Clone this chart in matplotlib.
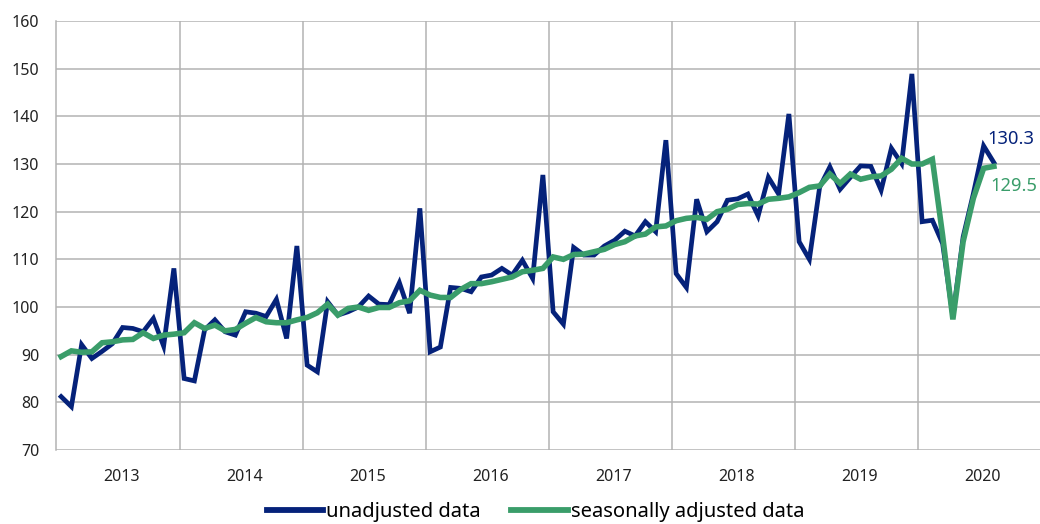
import matplotlib
matplotlib.use("Agg")
import matplotlib.pyplot as plt
import numpy as np

# monthly index values, Jan 2013 - Aug 2020
unadjusted = [81.2, 79.1, 92.1, 89.2, 90.7, 92.3, 95.7, 95.5, 94.8, 97.6, 91.8, 108.1,
              85.0, 84.5, 95.2, 97.3, 94.8, 94.1, 99.0, 98.7, 98.0, 101.6, 93.4, 112.8,
              87.8, 86.4, 101.1, 98.3, 99.0, 100.0, 102.3, 100.6, 100.5, 105.1, 98.7, 120.7,
              90.6, 91.6, 104.1, 103.9, 103.2, 106.3, 106.7, 108.1, 106.7, 109.8, 106.0, 127.7,
              99.0, 96.4, 112.5, 110.9, 110.9, 112.8, 114.0, 115.9, 114.9, 117.9, 115.8, 135.0,
              107.0, 104.1, 122.6, 115.8, 117.9, 122.4, 122.7, 123.7, 119.1, 127.2, 123.7, 140.5,
              113.7, 110.0, 125.1, 129.4, 124.7, 127.2, 129.6, 129.5, 124.5, 133.3, 130.1, 148.9,
              117.9, 118.2, 113.3, 98.0, 114.7, 123.8, 133.8, 130.3]
seas_adj = [89.6, 90.8, 90.5, 90.6, 92.5, 92.7, 93.1, 93.2, 94.6, 93.4, 94.1, 94.3,
            94.6, 96.7, 95.5, 96.2, 95.0, 95.3, 96.6, 97.8, 96.9, 96.7, 96.7, 97.3,
            97.8, 98.8, 100.6, 98.3, 99.7, 100.0, 99.3, 99.9, 99.9, 100.9, 101.3, 103.5,
            102.5, 102.0, 102.0, 103.7, 104.9, 104.9, 105.3, 105.8, 106.3, 107.4, 107.7, 108.1,
            110.5, 110.0, 111.0, 111.1, 111.6, 112.1, 113.1, 113.7, 114.9, 115.3, 116.8, 117.0,
            118.1, 118.6, 118.8, 118.4, 120.0, 120.5, 121.5, 121.7, 121.6, 122.6, 122.8, 123.1,
            124.0, 125.1, 125.4, 127.9, 125.9, 127.9, 126.8, 127.3, 127.5, 128.9, 131.2, 130.0,
            130.0, 131.0, 115.0, 97.4, 113.7, 122.8, 129.1, 129.5]
years = ["2013", "2014", "2015", "2016", "2017", "2018", "2019", "2020"]

blue = "#05227A"
green = "#3A9D6A"
grid_c = "#B3B3B3"

plt.rcParams['font.family'] = ['Noto Sans', 'DejaVu Sans']

fig = plt.figure(figsize=(10.4, 5.24), dpi=100)
ax = fig.add_axes([56/1040, 1-450/524, 1-56/1040, (450-21)/524])

x = np.arange(len(unadjusted))
ax.plot(x, unadjusted, color=blue, lw=3.4, solid_joinstyle='miter', label="unadjusted data", zorder=3)
ax.plot(x, seas_adj, color=green, lw=4.0, solid_joinstyle='miter', label="seasonally adjusted data", zorder=4)

ax.set_xlim(-0.5, 95.5)
ax.set_ylim(70, 160)
ax.set_yticks(range(70, 161, 10))

# year gridlines between Dec and Jan
for k in range(1, 8):
    ax.axvline(12*k - 0.45, color=grid_c, lw=1.1, zorder=1)
ax.set_xticks([12*k + 5.9 for k in range(len(years))])
ax.set_xticklabels(years)
ax.yaxis.grid(True, color=grid_c, lw=1.1, zorder=1)
ax.set_axisbelow(True)

for s in ["top", "right", "bottom"]:
    ax.spines[s].set_visible(False)
ax.spines["left"].set_color(grid_c)
ax.spines["left"].set_linewidth(1.1)
ax.tick_params(length=0, labelsize=11.5, colors="#222222")
ax.tick_params(axis='x', pad=14)
ax.tick_params(axis='y', pad=12)

ax.text(len(unadjusted) - 1.6, 135.2, "130.3", color=blue, fontsize=13.2, va='center', ha='left')
ax.text(len(seas_adj) - 1.3, 125.4, "129.5", color=green, fontsize=13.2, va='center', ha='left')

leg = fig.legend(loc='center', bbox_to_anchor=(0.515, 0.022), ncol=2, frameon=False,
                 fontsize=14.5, handlelength=2.8, handletextpad=0.15, columnspacing=1.5)
for h in leg.legend_handles:
    h.set_linewidth(4.2)

fig.savefig("out.png", dpi=100)
